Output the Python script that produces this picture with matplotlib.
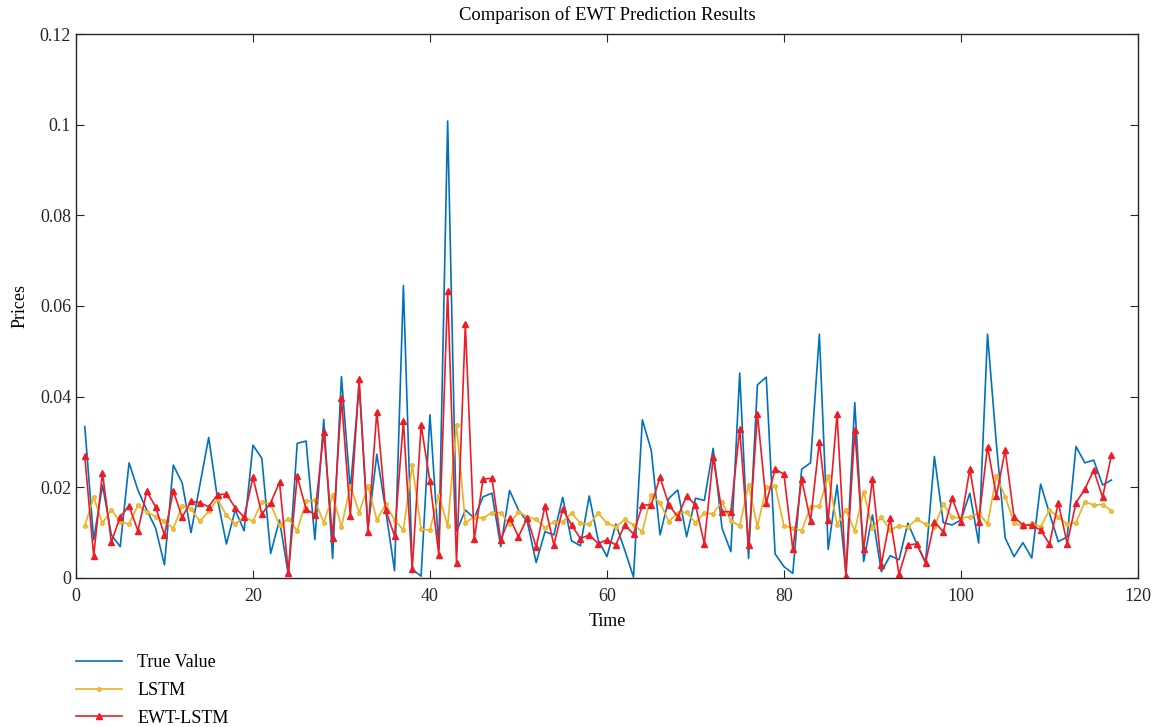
import numpy
import matplotlib

matplotlib.use("Agg")
import matplotlib.pyplot as plt
from matplotlib.ticker import FormatStrFormatter


PLOT_FONT_SIZE = 13
TITLE_FONT_SIZE = 13.4

plt.rcParams.update(
    {
        "font.family": ["Liberation Serif", "DejaVu Serif"],
        "font.size": PLOT_FONT_SIZE,
        "axes.labelsize": PLOT_FONT_SIZE,
        "xtick.labelsize": PLOT_FONT_SIZE,
        "ytick.labelsize": PLOT_FONT_SIZE,
    }
)

# Daily price series, one value per time step
true_value = [
    0.0334, 0.0084, 0.0205, 0.0095, 0.0069, 0.0254, 0.0194, 0.0150, 0.0110, 0.0029,
    0.0249, 0.0210, 0.0100, 0.0205, 0.0310, 0.0174, 0.0075, 0.0150, 0.0104, 0.0293,
    0.0264, 0.0054, 0.0128, 0.0007, 0.0297, 0.0302, 0.0085, 0.0350, 0.0043, 0.0444,
    0.0194, 0.0425, 0.0110, 0.0273, 0.0149, 0.0016, 0.0645, 0.0019, 0.0004, 0.0360,
    0.0065, 0.1008, 0.0102, 0.0150, 0.0132, 0.0179, 0.0187, 0.0069, 0.0193, 0.0150,
    0.0124, 0.0034, 0.0102, 0.0095, 0.0178, 0.0082, 0.0071, 0.0181, 0.0084, 0.0047,
    0.0119, 0.0062, 0.0002, 0.0349, 0.0282, 0.0095, 0.0176, 0.0194, 0.0091, 0.0176,
    0.0171, 0.0286, 0.0110, 0.0058, 0.0452, 0.0043, 0.0426, 0.0443, 0.0053, 0.0025,
    0.0010, 0.0240, 0.0254, 0.0538, 0.0063, 0.0205, 0.0010, 0.0387, 0.0036, 0.0139,
    0.0014, 0.0049, 0.0040, 0.0121, 0.0076, 0.0034, 0.0268, 0.0122, 0.0117, 0.0128,
    0.0187, 0.0077, 0.0538, 0.0296, 0.0088, 0.0047, 0.0078, 0.0044, 0.0207, 0.0143,
    0.0080, 0.0091, 0.0290, 0.0254, 0.0260, 0.0205, 0.0216,
]

lstm = [
    0.0115, 0.0178, 0.0121, 0.0150, 0.0124, 0.0119, 0.0160, 0.0146, 0.0135, 0.0126,
    0.0109, 0.0159, 0.0152, 0.0125, 0.0147, 0.0174, 0.0138, 0.0119, 0.0135, 0.0125,
    0.0168, 0.0163, 0.0116, 0.0131, 0.0104, 0.0169, 0.0171, 0.0122, 0.0182, 0.0113,
    0.0203, 0.0144, 0.0203, 0.0128, 0.0163, 0.0128, 0.0106, 0.0249, 0.0107, 0.0106,
    0.0183, 0.0115, 0.0338, 0.0122, 0.0135, 0.0132, 0.0144, 0.0144, 0.0119, 0.0146,
    0.0135, 0.0129, 0.0111, 0.0124, 0.0124, 0.0143, 0.0121, 0.0118, 0.0143, 0.0121,
    0.0113, 0.0129, 0.0117, 0.0102, 0.0183, 0.0166, 0.0124, 0.0144, 0.0145, 0.0122,
    0.0143, 0.0142, 0.0168, 0.0126, 0.0115, 0.0205, 0.0113, 0.0200, 0.0203, 0.0115,
    0.0110, 0.0104, 0.0157, 0.0159, 0.0225, 0.0117, 0.0150, 0.0104, 0.0190, 0.0111,
    0.0134, 0.0106, 0.0115, 0.0113, 0.0129, 0.0119, 0.0113, 0.0163, 0.0134, 0.0132,
    0.0135, 0.0143, 0.0119, 0.0225, 0.0179, 0.0122, 0.0113, 0.0121, 0.0113, 0.0150,
    0.0134, 0.0119, 0.0122, 0.0168, 0.0161, 0.0162, 0.0148,
]

ewt_lstm = [
    0.0268, 0.0049, 0.0232, 0.0079, 0.0135, 0.0159, 0.0104, 0.0191, 0.0157, 0.0094,
    0.0192, 0.0134, 0.0169, 0.0166, 0.0157, 0.0184, 0.0185, 0.0155, 0.0134, 0.0222,
    0.0141, 0.0166, 0.0211, 0.0012, 0.0224, 0.0152, 0.0140, 0.0322, 0.0088, 0.0396,
    0.0137, 0.0438, 0.0102, 0.0367, 0.0149, 0.0093, 0.0346, 0.0019, 0.0337, 0.0213,
    0.0051, 0.0634, 0.0034, 0.0560, 0.0085, 0.0218, 0.0220, 0.0084, 0.0133, 0.0091,
    0.0133, 0.0068, 0.0159, 0.0073, 0.0152, 0.0117, 0.0087, 0.0095, 0.0076, 0.0084,
    0.0073, 0.0117, 0.0097, 0.0161, 0.0161, 0.0222, 0.0161, 0.0135, 0.0181, 0.0161,
    0.0076, 0.0266, 0.0146, 0.0146, 0.0328, 0.0073, 0.0362, 0.0165, 0.0240, 0.0229,
    0.0063, 0.0218, 0.0126, 0.0301, 0.0128, 0.0362, 0.0004, 0.0326, 0.0063, 0.0218,
    0.0029, 0.0132, 0.0008, 0.0073, 0.0075, 0.0034, 0.0124, 0.0102, 0.0176, 0.0124,
    0.0240, 0.0124, 0.0290, 0.0181, 0.0282, 0.0134, 0.0117, 0.0116, 0.0106, 0.0075,
    0.0166, 0.0076, 0.0166, 0.0196, 0.0238, 0.0178, 0.0271,
]

x_ticks = [0, 20, 40, 60, 80, 100, 120]
y_ticks = [0, 0.02, 0.04, 0.06, 0.08, 0.1, 0.12]


if __name__ == "__main__":
    time = numpy.arange(1, len(true_value) + 1)

    fig = plt.figure(figsize=(11.56, 7.27), dpi=100)
    ax = fig.add_axes([0.0657, 0.2050, 0.9187, 0.7482])

    ax.plot(time, true_value, color="#0072BD", linewidth=1.2, label="True Value")
    ax.plot(
        time,
        lstm,
        color="#EDB120",
        linewidth=1.2,
        marker="o",
        markersize=2.5,
        markerfacecolor="#F3C860",
        label="LSTM",
    )
    ax.plot(
        time,
        ewt_lstm,
        color="#EE1C25",
        linewidth=1.2,
        marker="^",
        markersize=4,
        label="EWT-LSTM",
    )

    ax.set_xlim(0, 120)
    ax.set_ylim(0, 0.12)
    ax.set_xticks(x_ticks)
    ax.set_yticks(y_ticks)
    ax.yaxis.set_major_formatter(FormatStrFormatter("%g"))
    ax.tick_params(direction="in", top=True, right=True, length=6, colors="#262626")
    ax.tick_params(axis="x", pad=7)
    for spine in ax.spines.values():
        spine.set_color("#262626")
        spine.set_linewidth(1.0)

    ax.set_xlabel("Time", labelpad=6)
    ax.set_ylabel("Prices", labelpad=8)
    ax.set_title("Comparison of EWT Prediction Results", fontsize=TITLE_FONT_SIZE, pad=10)

    ax.legend(
        loc="upper left",
        bbox_to_anchor=(0.0, -0.14),
        frameon=False,
        borderpad=0.0,
        borderaxespad=0.0,
        handlelength=2.55,
        handletextpad=0.85,
        labelspacing=0.6,
    )

    fig.savefig("out.png", dpi=100)
